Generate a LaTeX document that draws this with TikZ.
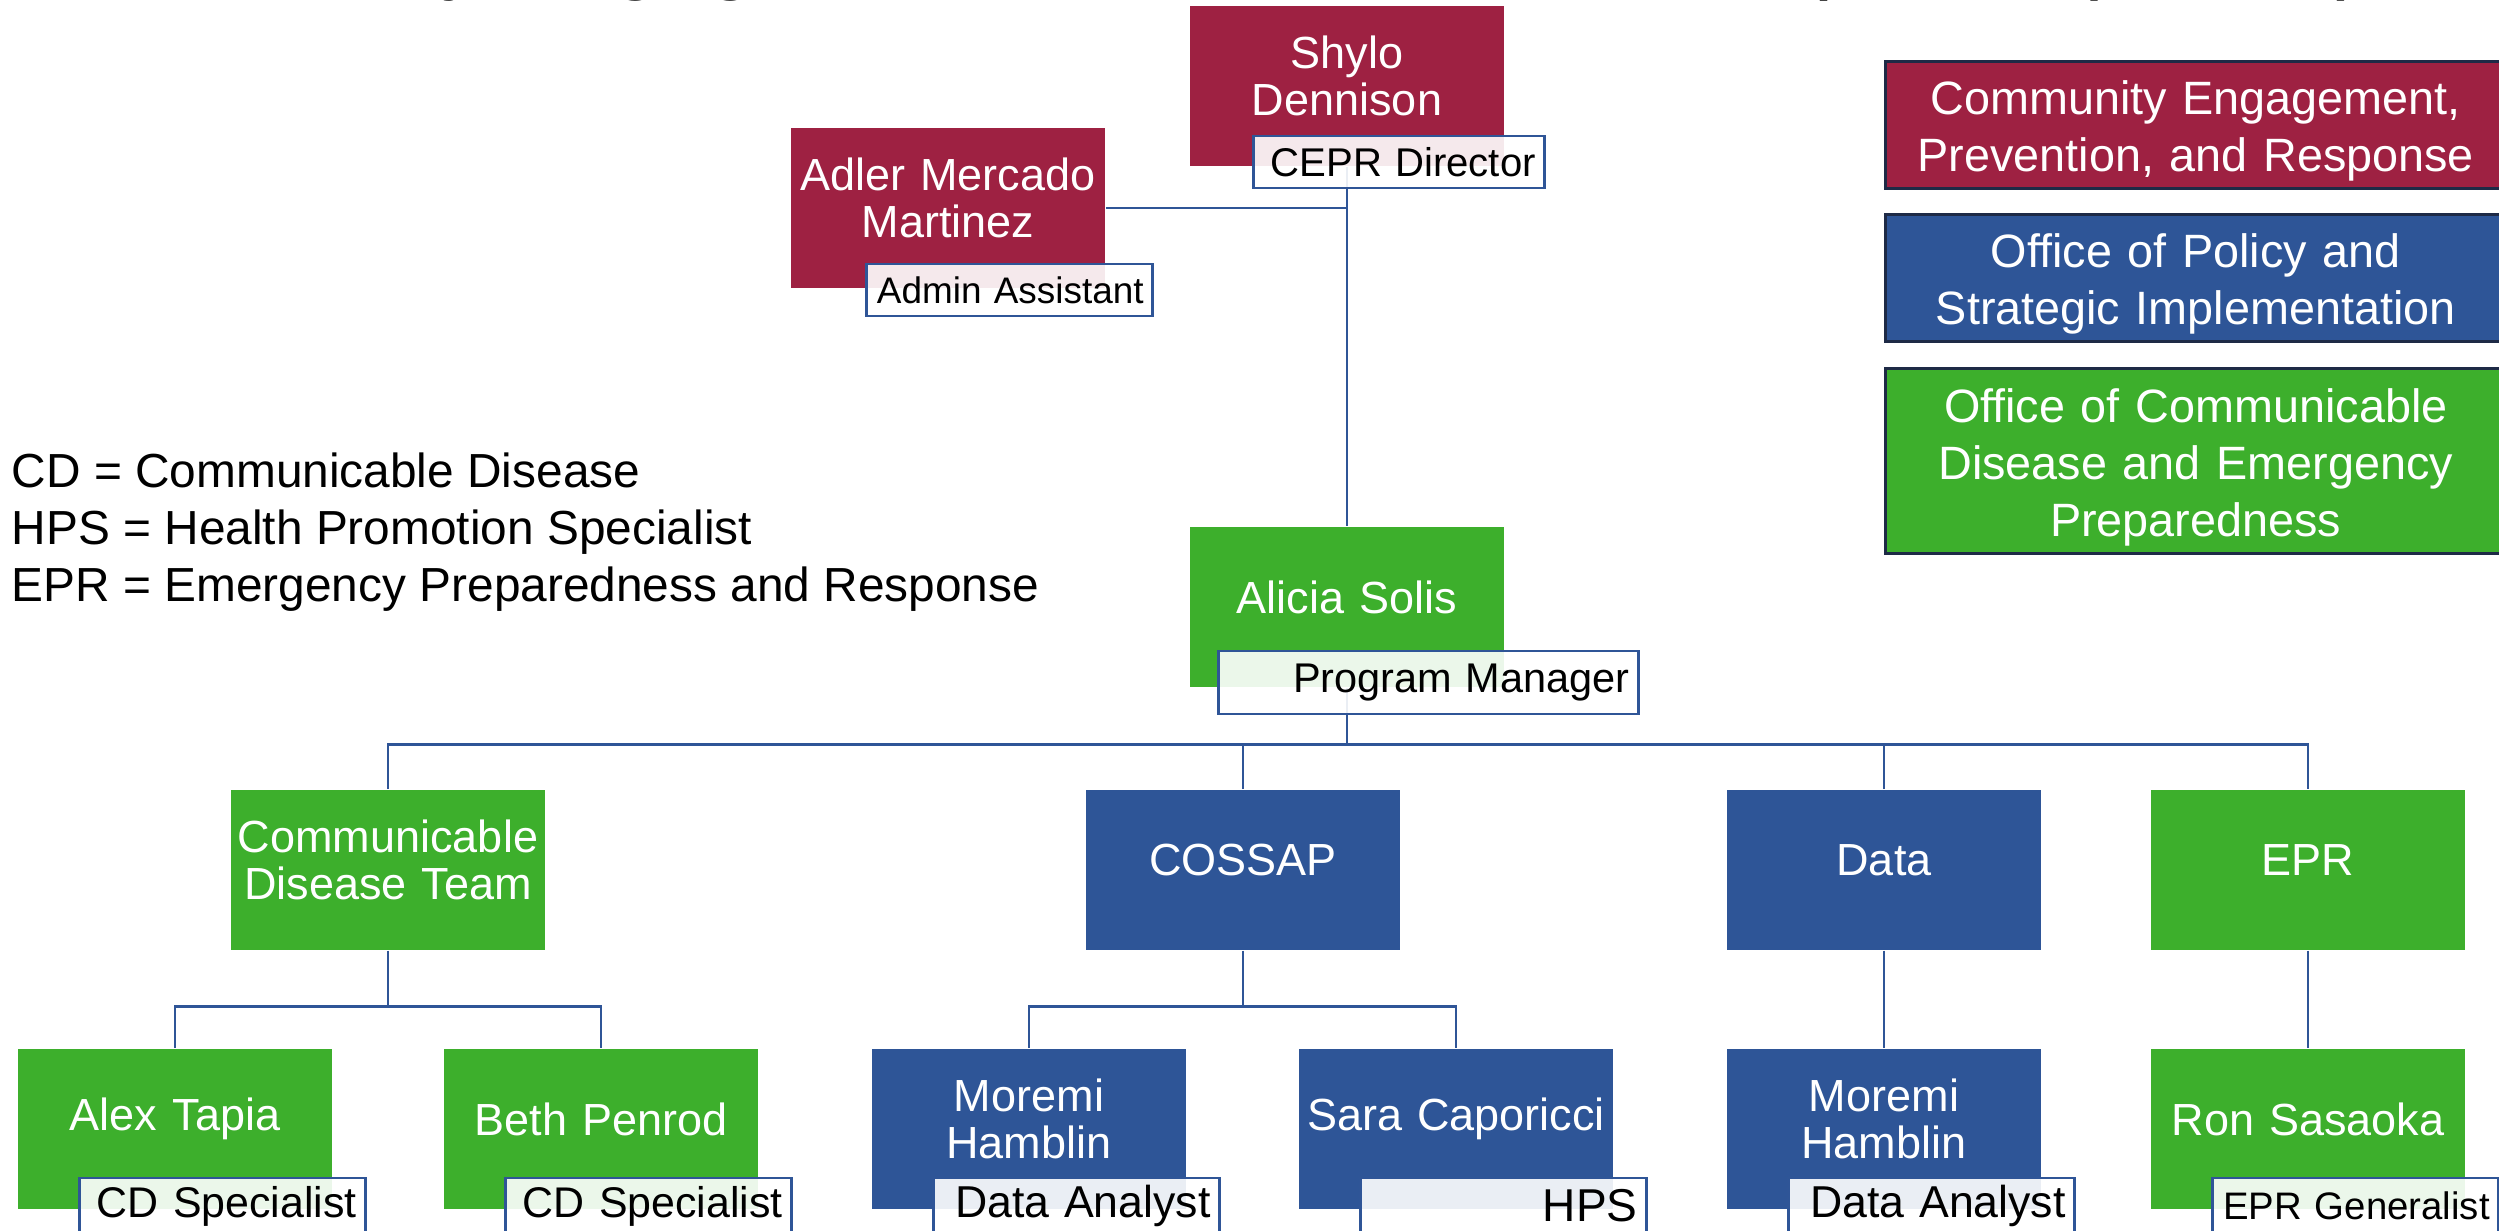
\documentclass[tikz,border=0pt]{standalone}
\usepackage{fontspec}
\setmainfont{Liberation Sans}
\usepackage{tikz}
\usetikzlibrary{positioning}

\definecolor{ceprRed}{RGB}{158,33,66}
\definecolor{opsiBlue}{RGB}{46,85,151}
\definecolor{ocdGreen}{RGB}{61,175,44}
\definecolor{lineBlue}{RGB}{47,85,151}
\definecolor{keyEdge}{RGB}{30,42,70}

\begin{document}
\begin{tikzpicture}[x=0.01cm,y=-0.01cm]
\tikzstyle{person} = [rectangle,minimum width=3.14cm,minimum height=1.6cm,inner sep=0pt,text width=3.1cm,align=center,text=white,font=\fontsize{12.8}{13.6}\selectfont,execute at end node={\endgraf\vspace*{0.2cm}}];
\tikzstyle{tag} = [rectangle,draw=lineBlue,line width=0.75pt,fill=white,fill opacity=0.9,text opacity=1,minimum width=2.86cm,minimum height=0.56cm,inner xsep=0.09cm,inner ysep=0pt,text width=2.68cm,align=right,anchor=north west,font=\fontsize{12.2}{14}\selectfont];
\tikzstyle{conn} = [draw=lineBlue,line width=0.8pt];
\tikzstyle{office} = [rectangle,draw=keyEdge,line width=0.9pt,text=white,minimum width=6.2cm,inner sep=0pt,text width=5.9cm,align=center,anchor=north west,font=\fontsize{13.3}{16.2}\selectfont,execute at end node={\endgraf\vspace*{-0.12cm}}];
\useasboundingbox (0,0) rectangle (2499,1231);
\clip (0,0) rectangle (2499,1231);

% heading, cut off by the top edge
\node[anchor=base,inner sep=0pt,font=\fontsize{24.3}{29}\selectfont] (title) at (1209,-16) {Community Engagement, Prevention, and Response (CEPR)};

\node[person,fill=ceprRed] (Shylo) at (1347,86) {Shylo\\Dennison};
\node[person,fill=ceprRed] (Adler) at (948,208) {Adler Mercado\\Martinez};
\node[person,fill=ocdGreen] (Alicia) at (1347,607) {Alicia Solis};

\node[person,fill=ocdGreen] (CDTeam) at (388,870) {Communicable\\Disease Team};
\node[person,fill=opsiBlue] (COSSAP) at (1243,870) {COSSAP};
\node[person,fill=opsiBlue] (Data) at (1884,870) {Data};
\node[person,fill=ocdGreen] (EPR) at (2308,870) {EPR};

\node[person,fill=ocdGreen] (Alex) at (175,1129) {Alex Tapia};
\node[person,fill=ocdGreen] (Beth) at (601,1129) {Beth Penrod};
\node[person,fill=opsiBlue] (MoremiA) at (1029,1129) {Moremi\\Hamblin};
\node[person,fill=opsiBlue] (Sara) at (1456,1129) {Sara Caporicci};
\node[person,fill=opsiBlue] (MoremiB) at (1884,1129) {Moremi\\Hamblin};
\node[person,fill=ocdGreen] (Ron) at (2308,1129) {Ron Sasaoka};

% reporting lines
\draw[conn] (Shylo.south) -- (Alicia.north);
\draw[conn] (Adler.east) -- (Adler.east -| Shylo.south);
\draw[conn] (CDTeam.north) -- ++(0,-45) coordinate (bus) -| (EPR.north);
\draw[conn] (Alicia.south) -- (Alicia.south |- bus);
\draw[conn] (COSSAP.north) -- (COSSAP.north |- bus);
\draw[conn] (Data.north) -- (Data.north |- bus);
\draw[conn] (Alex.north) -- ++(0,-42) coordinate (cdBus) -| (Beth.north);
\draw[conn] (CDTeam.south) -- (CDTeam.south |- cdBus);
\draw[conn] (MoremiA.north) -- ++(0,-42) coordinate (cosBus) -| (Sara.north);
\draw[conn] (COSSAP.south) -- (COSSAP.south |- cosBus);
\draw[conn] (Data.south) -- (MoremiB.north);
\draw[conn] (EPR.south) -- (Ron.north);

% job titles
\node[tag,minimum width=2.91cm,text width=2.73cm,minimum height=0.52cm,font=\fontsize{11.4}{13}\selectfont] (ShyloTag) at ([shift={(63,-32)}]Shylo.south west) {CEPR Director};
\node[tag,minimum height=0.52cm,font=\fontsize{10.5}{12}\selectfont] (AdlerTag) at ([shift={(75,-26)}]Adler.south west) {Admin Assistant};
\node[tag,minimum width=4.2cm,text width=4.02cm,minimum height=0.63cm,font=\fontsize{11.8}{13}\selectfont] (AliciaTag) at ([shift={(28,-38)}]Alicia.south west) {Program Manager};
\node[tag] (AlexTag) at ([shift={(61,-33)}]Alex.south west) {CD Specialist};
\node[tag] (BethTag) at ([shift={(61,-33)}]Beth.south west) {CD Specialist};
\node[tag,font=\fontsize{12.7}{14}\selectfont] (MoremiATag) at ([shift={(61,-33)}]MoremiA.south west) {Data Analyst};
\node[tag,font=\fontsize{13.1}{14}\selectfont] (SaraTag) at ([shift={(61,-33)}]Sara.south west) {HPS};
\node[tag,font=\fontsize{12.7}{14}\selectfont] (MoremiBTag) at ([shift={(61,-33)}]MoremiB.south west) {Data Analyst};
\node[tag,font=\fontsize{10.9}{12}\selectfont] (RonTag) at ([shift={(61,-33)}]Ron.south west) {EPR Generalist};

% abbreviations
\node[anchor=north west,inner sep=0pt,align=left,font=\fontsize{13.6}{16.2}\selectfont] (abbrev) at (11,452) {CD = Communicable Disease\\HPS = Health Promotion Specialist\\EPR = Emergency Preparedness and Response};

% colour key
\node[office,fill=ceprRed,minimum height=1.27cm] (keyCEPR) at (1884,60) {Community Engagement,\\Prevention, and Response};
\node[office,fill=opsiBlue,minimum height=1.27cm] (keyOPSI) at (1884,213) {Office of Policy and\\Strategic Implementation};
\node[office,fill=ocdGreen,minimum height=1.85cm] (keyOCD) at (1884,367) {Office of Communicable\\Disease and Emergency\\Preparedness};

\end{tikzpicture}
\end{document}
